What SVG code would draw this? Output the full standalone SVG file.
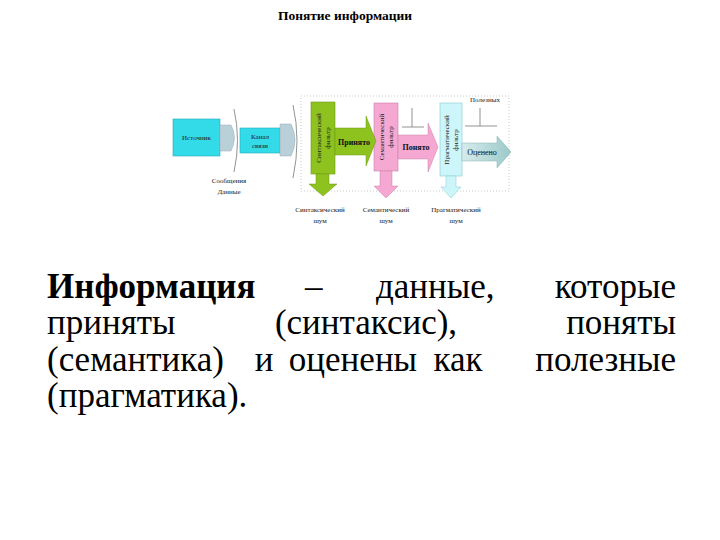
<svg xmlns="http://www.w3.org/2000/svg" width="720" height="540" viewBox="0 0 720 540" xml:lang="ru">
<defs>
<linearGradient id="teal" x1="0" y1="0" x2="1" y2="0">
<stop offset="0" stop-color="#D6ECEC"/><stop offset="1" stop-color="#9CC9C9"/>
</linearGradient>
<style>
.lbl{font-family:'Liberation Serif',serif;font-size:7px;fill:#222;text-anchor:middle}
.arr{font-family:'Liberation Serif',serif;font-size:8px;fill:#111;text-anchor:middle}
.ln{stroke:#777;stroke-width:0.8;fill:none}
.conn{fill:#B9D0D8;stroke:#9AB;stroke-width:0.5}
</style>
</defs>
<rect width="720" height="540" fill="#fff"/>

<g id="definition">
<text font-family="Liberation Serif" font-size="35" fill="#000"><tspan x="47" y="298" font-weight="bold">Информация</tspan><tspan x="305" y="298">–</tspan><tspan x="376" y="298">данные,</tspan><tspan x="676" y="298" text-anchor="end">которые</tspan></text>
<text font-family="Liberation Serif" font-size="35" fill="#000"><tspan x="47" y="334">приняты</tspan><tspan x="366" y="334" text-anchor="middle">(синтаксис),</tspan><tspan x="676" y="334" text-anchor="end">поняты</tspan></text>
<text font-family="Liberation Serif" font-size="35" fill="#000"><tspan x="47" y="371">(семантика)</tspan><tspan x="264" y="371" text-anchor="middle">и</tspan><tspan x="353" y="371" text-anchor="middle">оценены</tspan><tspan x="458" y="371" text-anchor="middle">как</tspan><tspan x="676" y="371" text-anchor="end">полезные</tspan></text>
<text font-family="Liberation Serif" font-size="35" fill="#000"><tspan x="47" y="407">(прагматика).</tspan></text>
</g>

<text x="345" y="20" font-size="13.5" font-weight="bold" text-anchor="middle" font-family="Liberation Serif">Понятие информации</text>

<g id="frame"><rect x="301" y="96" width="208" height="95" fill="none" stroke="#bbb" stroke-width="0.8" stroke-dasharray="1,2"/></g>

<g id="source"><rect x="173" y="119" width="47" height="37" fill="#33DBE8" stroke="#22AAB8" stroke-width="0.6"/>
<text class="lbl" x="196.5" y="140">Источник</text></g>

<g id="channel"><rect x="240" y="128" width="40" height="25" fill="#33DBE8" stroke="#22AAB8" stroke-width="0.6"/>
<text class="lbl" x="260" y="139">Канал</text>
<text class="lbl" x="260" y="148">связи</text></g>

<g id="synfilter"><rect x="311" y="102" width="24" height="72" fill="#8DC21F" stroke="#6E9A15" stroke-width="0.6"/>
<text class="lbl" transform="translate(321,138) rotate(-90)">Синтаксический</text>
<text class="lbl" transform="translate(330,138) rotate(-90)">фильтр</text></g>

<g id="semfilter"><rect x="374" y="103" width="24" height="68" fill="#F4A8D2" stroke="#C980AA" stroke-width="0.6"/>
<text class="lbl" transform="translate(384,137) rotate(-90)">Семантический</text>
<text class="lbl" transform="translate(393,137) rotate(-90)">фильтр</text></g>

<g id="pragfilter"><rect x="440" y="103" width="22" height="73" fill="#CCF6FA" stroke="#88C8D0" stroke-width="0.6"/>
<text class="lbl" transform="translate(449,140) rotate(-90)">Прагматический</text>
<text class="lbl" transform="translate(458,140) rotate(-90)">фильтр</text></g>

<g id="connectors">
<path class="conn" d="M220,125 H231 Q238,137 231,151 H220 Z"/>
<path class="ln" d="M234,109 Q241,140 234,172"/>
<path class="conn" d="M280,124 H291 Q299,140 291,156 H280 Z"/>
<path class="ln" d="M293,105 Q301,140 293,178"/>
<polygon points="335,128 366,128 366,116 376,141 366,166 366,155 335,155" fill="#8DC21F" stroke="#6E9A15" stroke-width="0.5"/>
<text class="arr" x="354" y="144.5" font-weight="bold">Принято</text>
<polygon points="398,135 428,135 428,123 438,147 428,172 428,159 398,159" fill="#F4A8D2" stroke="#C980AA" stroke-width="0.5"/>
<text class="arr" x="416" y="150" font-weight="bold">Понято</text>
<polygon points="462,143 497,143 497,136 511,152 497,168 497,161 462,161" fill="url(#teal)" stroke="#88B0B0" stroke-width="0.5"/>
<text class="arr" x="482" y="155">Оценено</text>
<path class="ln" d="M412,108 V127 M402,127 H424"/>
<path class="ln" d="M480,108 V126 M465,126 H497"/>
<polygon points="316,174 329,174 329,184 337,184 323,196 309,184 316,184" fill="#8DC21F" stroke="#6E9A15" stroke-width="0.5"/>
<polygon points="380,171 392,171 392,186 398,186 386,198 374,186 380,186" fill="#F4A8D2" stroke="#C980AA" stroke-width="0.5"/>
<polygon points="446,176 456,176 456,187 461,187 451,198 441,187 446,187" fill="#CCF6FA" stroke="#88C8D0" stroke-width="0.5"/>
</g>

<g id="labels">
<text class="lbl" x="485" y="102">Полезных</text>
<text class="lbl" x="229" y="183">Сообщения</text>
<text class="lbl" x="229" y="194">Данные</text>
<text class="lbl" x="320" y="212">Синтаксический</text>
<text class="lbl" x="320" y="223">шум</text>
<text class="lbl" x="386" y="212">Семантический</text>
<text class="lbl" x="386" y="223">шум</text>
<text class="lbl" x="456" y="212">Прагматический</text>
<text class="lbl" x="456" y="223">шум</text>
</g>
</svg>
